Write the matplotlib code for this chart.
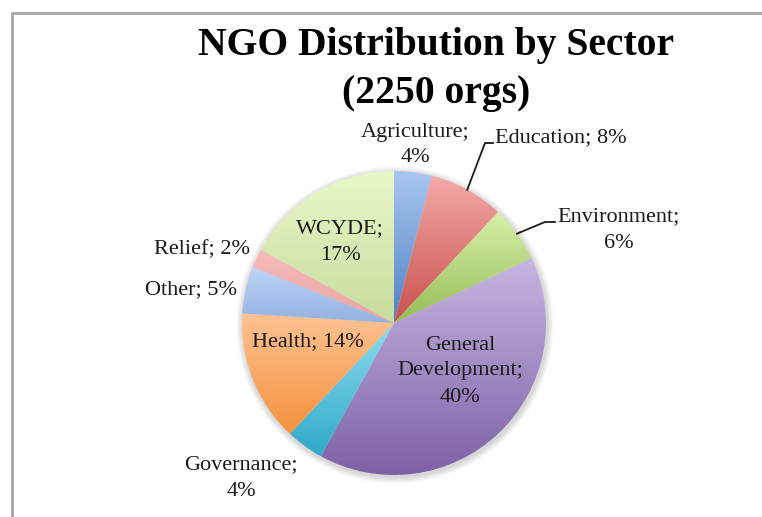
import numpy as np
import matplotlib.pyplot as plt
from matplotlib.colors import to_rgb
from matplotlib.patches import Circle

# sector shares (percent), clockwise from 12 o'clock
sectors = ["Agriculture", "Education", "Environment", "General Development",
           "Governance", "Health", "Other", "Relief", "WCYDE"]
shares = [4, 8, 6, 40, 4, 14, 5, 2, 17]
label_text = ["Agriculture;\n4%", "Education; 8%", "Environment;\n6%",
              "General\nDevelopment;\n40%", "Governance;\n4%", "Health; 14%",
              "Other; 5%", "Relief; 2%", "WCYDE;\n17%"]
title_lines = ["NGO Distribution by Sector", "(2250 orgs)"]

# gradient colours per slice: (top, bottom)
grad = [("#aac6f0", "#4f81c4"), ("#f4aaa8", "#c9504c"), ("#d8f0ab", "#97bb55"),
        ("#c6b6e2", "#7e62a6"), ("#8fdcef", "#2fa9c8"), ("#fdc292", "#f5923e"),
        ("#bcd3f6", "#94b2e0"), ("#f7bcbb", "#e9a3a2"), ("#e8f8c8", "#c8dc9e")]

W, H = 762, 517
fig = plt.figure(figsize=(W / 100, H / 100), dpi=100)
ax = fig.add_axes([0, 0, 1, 1])


def px(x, y):
    # pixel position (from top-left) to data coords
    return x, H - y


cx, cy = px(394, 323)
R = 152

# soft drop shadow under the pie
for k in range(8):
    ax.add_patch(Circle((cx + 1, cy - 2), R + 1 + k * 0.8, color="k",
                        alpha=0.018, lw=0, zorder=0))

wedges, _ = ax.pie(shares, startangle=90, counterclock=False, center=(cx, cy),
                   radius=R, colors=[g[1] for g in grad],
                   wedgeprops=dict(linewidth=0))

# fill every wedge with a vertical gradient over its own bounding box
for w, (top, bot) in zip(wedges, grad):
    bb = w.get_path().get_extents()
    t = np.linspace(0, 1, 128)[:, None]
    img = (1 - t) * np.array(to_rgb(top)) + t * np.array(to_rgb(bot))
    img = img[:, None, :]
    im = ax.imshow(img, extent=(bb.x0, bb.x1, bb.y0, bb.y1), origin="upper",
                   aspect="auto", interpolation="bilinear", zorder=2)
    im.set_clip_path(w)
    w.set_facecolor("none")

label_pos = [(415, 145), (561, 138), (619, 230), (460, 371), (241, 478),
             (308, 342), (191, 290), (202, 250), (340, 242)]

serif = ["Liberation Serif", "DejaVu Serif"]
for txt, (lx, ly) in zip(label_text, label_pos):
    ax.text(*px(lx, ly), txt, ha="center", va="center", fontsize=16,
            family=serif, color="#1a1a1a", linespacing=1.5, zorder=5)

# leader lines for the two labels placed outside the pie
cum = np.cumsum([0] + shares)
for i, elbow, end in [(1, (485, 143), (493, 143)), (2, (545, 222), (555, 222))]:
    mid = np.deg2rad(90 - 360 * (cum[i] + cum[i + 1]) / 2 / 100)
    sx, sy = cx + R * np.cos(mid), cy + R * np.sin(mid)
    ex, ey = px(*elbow)
    fx, fy = px(*end)
    ax.plot([sx, ex, fx], [sy, ey, fy], color="#1a1a1a", lw=1.3, zorder=4)

# title, two lines on fixed baselines
for line, base in zip(title_lines, [55, 103]):
    ax.text(*px(436, base), line, ha="center", va="baseline", fontsize=28.5,
            fontweight="bold", family=serif, color="black")

# chart border
bx = [12, 12, W]
by = [H, 13, 13]
ax.plot(bx, [H - v for v in by], color="#a6a6a6", lw=2, clip_on=False)

ax.set_xlim(0, W)
ax.set_ylim(0, H)
ax.set_aspect("auto")
ax.axis("off")

fig.savefig("out.png", dpi=100)
